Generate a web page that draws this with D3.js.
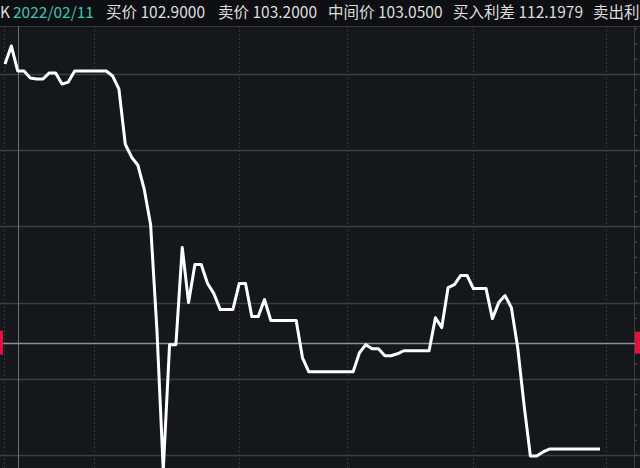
<!DOCTYPE html>
<html>
<head>
<meta charset="utf-8">
<script src="https://cdn.jsdelivr.net/npm/d3@7"></script>
<style>
  html, body { margin: 0; padding: 0; background: #15171b; overflow: hidden; }
  svg { display: block; }
</style>
</head>
<body>
<div id="chart"></div>
<script>
// header quote fields
var headerLabels = ['K', '2022/02/11', '买价 102.9000', '卖价 103.2000', '中间价 103.0500', '买入利差 112.1979', '卖出利差 112.3650'];
var headerX = [0, 13, 106, 218, 328, 453, 593];

// price line, one value per tick
var prices = [
  103.0566, 103.0684, 103.0520, 103.0520, 103.0474, 103.0467, 103.0467, 103.0507, 103.0507, 103.0434,
  103.0447, 103.0520, 103.0520, 103.0520, 103.0520, 103.0520, 103.0520, 103.0487, 103.0401, 103.0039,
  102.9954, 102.9901, 102.9743, 102.9513, 102.8822, 102.7901, 102.8724, 102.8724, 102.9362, 102.9000,
  102.9250, 102.9250, 102.9125, 102.9059, 102.8954, 102.8954, 102.8954, 102.9125, 102.9125, 102.8908,
  102.8908, 102.9020, 102.8882, 102.8882, 102.8882, 102.8882, 102.8882, 102.8638, 102.8546, 102.8546,
  102.8546, 102.8546, 102.8546, 102.8546, 102.8546, 102.8546, 102.8671, 102.8724, 102.8697, 102.8697,
  102.8651, 102.8651, 102.8664, 102.8684, 102.8684, 102.8684, 102.8684, 102.8684, 102.8901, 102.8836,
  102.9099, 102.9118, 102.9178, 102.9178, 102.9092, 102.9092, 102.9092, 102.8895, 102.9000, 102.9046,
  102.8967, 102.8704, 102.8329, 102.7993, 102.7993, 102.8020, 102.8039, 102.8039, 102.8039, 102.8039,
  102.8039, 102.8039, 102.8039, 102.8039, 102.8039
];
var yTicks = [102.80, 102.85, 102.90, 102.95, 103.00, 103.05];
var timeMarks = [14, 37, 54, 74, 95];   // dotted time separators (tick index)
var crossIndex = 2;
var refLevel = 102.8737;

var svgWidth = 640;
var svgHeight = 468;
var plotTop = 26;
var axisX = 634;

var svg = d3.select('#chart').append('svg')
  .attr('width', svgWidth)
  .attr('height', svgHeight);

svg.append('rect')
  .attr('width', svgWidth)
  .attr('height', svgHeight)
  .attr('fill', '#15171b');
svg.append('rect')
  .attr('width', svgWidth)
  .attr('height', plotTop)
  .attr('fill', '#0e0f12');

var xScale = d3.scaleLinear()
  .domain([0, prices.length - 1])
  .range([5, 600]);
var yScale = d3.scaleLinear()
  .domain([102.80, 103.05])
  .range([455, 74]);

// horizontal grid
svg.append('g')
  .selectAll('line')
  .data(yTicks)
  .join('line')
  .attr('x1', 0)
  .attr('x2', svgWidth)
  .attr('y1', function (d) { return Math.round(yScale(d)) + 0.5; })
  .attr('y2', function (d) { return Math.round(yScale(d)) + 0.5; })
  .attr('stroke', '#3a3d43')
  .attr('stroke-width', 1.5);

svg.append('line')
  .attr('x1', 0).attr('x2', svgWidth)
  .attr('y1', plotTop + 0.5).attr('y2', plotTop + 0.5)
  .attr('stroke', '#34373c');

// dotted verticals
svg.append('g')
  .selectAll('line')
  .data(timeMarks)
  .join('line')
  .attr('x1', function (d) { return Math.round(xScale(d)) + 0.5; })
  .attr('x2', function (d) { return Math.round(xScale(d)) + 0.5; })
  .attr('y1', plotTop)
  .attr('y2', svgHeight)
  .attr('stroke', '#34373c')
  .attr('stroke-dasharray', '2,2');
svg.append('line')
  .attr('x1', 4.5).attr('x2', 4.5)
  .attr('y1', plotTop).attr('y2', svgHeight)
  .attr('stroke', '#34373c')
  .attr('stroke-dasharray', '2,2');

// right axis with minor ticks
var rightAxis = d3.axisRight(yScale)
  .tickValues(d3.range(102.74, 103.085, 0.01))
  .tickSize(3)
  .tickFormat('');
var ra = svg.append('g')
  .attr('transform', 'translate(' + axisX + ',0)')
  .call(rightAxis);
ra.select('.domain').remove();
ra.selectAll('line').attr('stroke', '#55585d');
svg.append('line')
  .attr('x1', axisX + 0.5).attr('x2', axisX + 0.5)
  .attr('y1', plotTop).attr('y2', svgHeight)
  .attr('stroke', '#3a3d43');

// crosshair
svg.append('line')
  .attr('x1', Math.round(xScale(crossIndex)) + 0.5)
  .attr('x2', Math.round(xScale(crossIndex)) + 0.5)
  .attr('y1', plotTop).attr('y2', svgHeight)
  .attr('stroke', '#6c6f74');
svg.append('line')
  .attr('x1', 0).attr('x2', svgWidth)
  .attr('y1', Math.round(yScale(refLevel)) + 0.5)
  .attr('y2', Math.round(yScale(refLevel)) + 0.5)
  .attr('stroke', '#8c8f94')
  .attr('stroke-width', 1.5);

// red level markers on both edges
svg.append('rect')
  .attr('x', 0).attr('width', 3)
  .attr('y', yScale(refLevel) - 12).attr('height', 24)
  .attr('fill', '#e5103c');
svg.append('rect')
  .attr('x', axisX + 1).attr('width', 6)
  .attr('y', yScale(refLevel) - 11).attr('height', 22)
  .attr('fill', '#e5103c');

// price line
var line = d3.line()
  .x(function (_, i) { return xScale(i); })
  .y(function (d) { return yScale(d); });

svg.append('clipPath')
  .attr('id', 'plot')
  .append('rect')
  .attr('x', 0).attr('y', plotTop)
  .attr('width', axisX).attr('height', svgHeight - plotTop);

svg.append('path')
  .datum(prices)
  .attr('clip-path', 'url(#plot)')
  .attr('fill', 'none')
  .attr('stroke', '#ffffff')
  .attr('stroke-width', 3)
  .attr('stroke-linejoin', 'round')
  .attr('d', line);

// header text
svg.append('g')
  .selectAll('text')
  .data(headerLabels)
  .join('text')
  .attr('x', function (_, i) { return headerX[i]; })
  .attr('y', 18)
  .attr('fill', function (_, i) { return i === 1 ? '#3fc4b1' : '#dcdcdc'; })
  .attr('font-family', '"Noto Sans CJK SC", "Noto Sans", sans-serif')
  .attr('font-size', 15.5)
  .text(function (d) { return d; });
</script>
</body>
</html>
